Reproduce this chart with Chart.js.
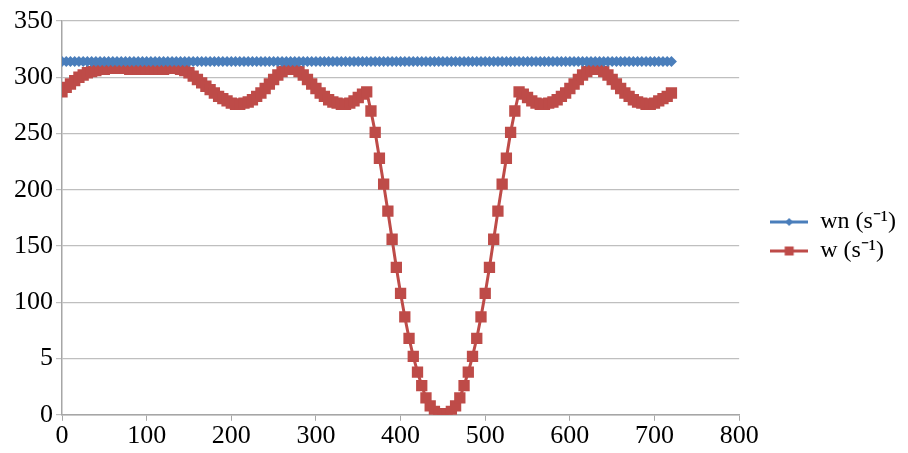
<!DOCTYPE html>
<html>
<head>
<meta charset="utf-8">
<script src="https://cdn.jsdelivr.net/npm/chart.js@4.4.1/dist/chart.umd.min.js"></script>
<style>
  body { margin: 0; background: #fff; }
  #chart { display: block; }
</style>
</head>
<body>
<canvas id="chart" width="908" height="453"></canvas>
<script>
const ctx = document.getElementById("chart");

// x positions (0..720, every 5)
const xValues = [
  0, 5, 10, 15, 20, 25, 30, 35, 40, 45, 50, 55, 60, 65, 70, 75, 80, 85, 90, 95,
  100, 105, 110, 115, 120, 125, 130, 135, 140, 145, 150, 155, 160, 165, 170, 175, 180, 185, 190, 195,
  200, 205, 210, 215, 220, 225, 230, 235, 240, 245, 250, 255, 260, 265, 270, 275, 280, 285, 290, 295,
  300, 305, 310, 315, 320, 325, 330, 335, 340, 345, 350, 355, 360, 365, 370, 375, 380, 385, 390, 395,
  400, 405, 410, 415, 420, 425, 430, 435, 440, 445, 450, 455, 460, 465, 470, 475, 480, 485, 490, 495,
  500, 505, 510, 515, 520, 525, 530, 535, 540, 545, 550, 555, 560, 565, 570, 575, 580, 585, 590, 595,
  600, 605, 610, 615, 620, 625, 630, 635, 640, 645, 650, 655, 660, 665, 670, 675, 680, 685, 690, 695,
  700, 705, 710, 715, 720
];

const wnValues = [
  314, 314, 314, 314, 314, 314, 314, 314, 314, 314, 314, 314, 314, 314, 314, 314, 314, 314, 314, 314,
  314, 314, 314, 314, 314, 314, 314, 314, 314, 314, 314, 314, 314, 314, 314, 314, 314, 314, 314, 314,
  314, 314, 314, 314, 314, 314, 314, 314, 314, 314, 314, 314, 314, 314, 314, 314, 314, 314, 314, 314,
  314, 314, 314, 314, 314, 314, 314, 314, 314, 314, 314, 314, 314, 314, 314, 314, 314, 314, 314, 314,
  314, 314, 314, 314, 314, 314, 314, 314, 314, 314, 314, 314, 314, 314, 314, 314, 314, 314, 314, 314,
  314, 314, 314, 314, 314, 314, 314, 314, 314, 314, 314, 314, 314, 314, 314, 314, 314, 314, 314, 314,
  314, 314, 314, 314, 314, 314, 314, 314, 314, 314, 314, 314, 314, 314, 314, 314, 314, 314, 314, 314,
  314, 314, 314, 314, 314
];

const wValues = [
  287, 291, 294, 297, 300, 302, 304, 305, 306, 307,
  307, 308, 308, 308, 308, 308, 307, 307, 307, 307,
  307, 307, 307, 307, 307, 308, 308, 308, 307, 306,
  304, 301, 298, 295, 292, 289, 286, 283, 281, 279,
  277, 276, 276, 277, 278, 280, 283, 286, 290, 294,
  298, 302, 305, 307, 308, 307, 305, 302, 298, 294,
  290, 286, 283, 280, 278, 277, 276, 276, 277, 279,
  282, 285, 287,
  270, 251, 228, 205, 181, 156, 131, 108, 87, 68,
  52, 38, 26, 15, 8, 3, 1, 0, 1, 3,
  8, 15, 26, 38, 52, 68, 87, 108, 131, 156,
  181, 205, 228, 251, 270,
  287, 285, 282, 279, 277, 276, 276, 277, 278, 280,
  283, 286, 290, 294, 298, 302, 305, 307, 308, 307,
  305, 302, 298, 294, 290, 286, 283, 280, 278, 277,
  276, 276, 277, 279, 281, 283, 286
];

const seriesNames = ['wn (s\u207B\u00B9)', 'w (s\u207B\u00B9)'];
const seriesColors = ['#4a7ebb', '#be4b48'];
const yTickLabels = {0: '0', 50: '5', 100: '100', 150: '150', 200: '200', 250: '250', 300: '300', 350: '350'};

function toPoints(ys) {
    return xValues.map(function (x, i) { return {x: x, y: ys[i]}; });
}

// small legend swatches: a line with the marker on it
function swatch(color, style) {
    let c = document.createElement('canvas');
    c.width = 38; c.height = 12;
    let g = c.getContext('2d');
    g.strokeStyle = color;
    g.lineWidth = 3;
    g.beginPath(); g.moveTo(0, 6); g.lineTo(38, 6); g.stroke();
    g.fillStyle = color;
    g.beginPath();
    if (style === 'diamond') {
        g.moveTo(19, 2); g.lineTo(23, 6); g.lineTo(19, 10); g.lineTo(15, 6);
    } else {
        g.rect(14.5, 1.5, 9, 9);
    }
    g.closePath(); g.fill();
    return c;
}
const swatches = [swatch(seriesColors[0], 'diamond'), swatch(seriesColors[1], 'square')];

const font = "'Liberation Serif', 'Times New Roman', serif";

let mainChart = new Chart(ctx, {
    type: 'line',
    data: {
        datasets: [{
            label: seriesNames[0],
            data: toPoints(wnValues),
            borderColor: seriesColors[0],
            backgroundColor: seriesColors[0],
            borderWidth: 2.5,
            pointStyle: 'rectRot',
            pointRadius: 5.5,
            pointBorderWidth: 0,
            pointBackgroundColor: seriesColors[0],
            lineTension: 0,
        }, {
            label: seriesNames[1],
            data: toPoints(wValues),
            borderColor: seriesColors[1],
            backgroundColor: seriesColors[1],
            borderWidth: 3,
            pointStyle: 'rect',
            pointRadius: 8,
            pointBorderWidth: 0,
            pointBackgroundColor: seriesColors[1],
            lineTension: 0,
        }],
    },
    options: {
        responsive: false,
        animation: false,
        layout: {padding: {left: 11, top: 21, right: 2, bottom: 1}},
        plugins: {
            tooltip: {enabled: false},
            legend: {
                position: 'right',
                labels: {
                    usePointStyle: true,
                    pointStyleWidth: 38,
                    padding: 5,
                    color: '#000',
                    font: {family: font, size: 24},
                    generateLabels: function (chart) {
                        let items = Chart.defaults.plugins.legend.labels.generateLabels(chart);
                        items.forEach(function (it, i) { it.pointStyle = swatches[i]; });
                        return items;
                    }
                }
            }
        },
        scales: {
            x: {
                type: 'linear',
                min: 0,
                max: 800,
                ticks: {stepSize: 100, color: '#000', font: {family: font, size: 26}, padding: 0},
                grid: {drawOnChartArea: false, tickLength: 6, color: '#a6a6a6'},
                border: {color: '#a6a6a6', width: 1.5},
            },
            y: {
                min: 0,
                max: 350,
                ticks: {
                    stepSize: 50, color: '#000', font: {family: font, size: 26}, padding: 3,
                    callback: function (v) { return yTickLabels[v]; }
                },
                grid: {color: '#bfbfbf', lineWidth: 1.2, tickLength: 6},
                border: {color: '#a6a6a6', width: 1.5},
            },
            // empty spacer between the plot and the legend
            gap: {
                type: 'linear',
                position: 'right',
                display: true,
                ticks: {display: false},
                grid: {display: false},
                border: {display: false},
                afterFit: function (scale) { scale.width = 26; }
            }
        }
    }
});
</script>
</body>
</html>
